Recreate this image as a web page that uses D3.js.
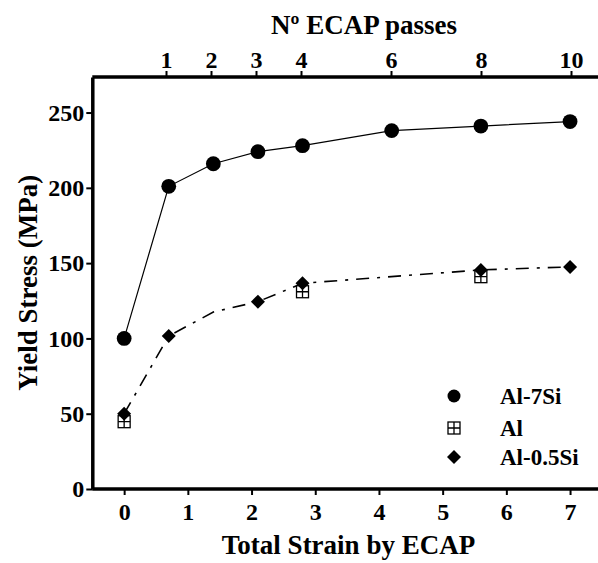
<!DOCTYPE html>
<html>
<head>
<meta charset="utf-8">
<script src="https://cdn.jsdelivr.net/npm/d3@7"></script>
<style>
  body { margin: 0; background: #fff; }
  text { font-family: "Liberation Serif", "Times New Roman", serif; font-weight: bold; fill: #000; }
</style>
</head>
<body>
<div id="chart"></div>
<script>
// strain after each ECAP pass (0, 1, 2, 3, 4, 6, 8, 10 passes)
const strain = [0, 0.7, 1.4, 2.1, 2.8, 4.2, 5.6, 7.0];
const al7si = [100, 201, 216, 224, 228, 238, 241, 244];

const alStrain = [0, 2.8, 5.6];
const al = [44.7, 131, 141];

const al05siStrain = [0, 0.7, 2.1, 2.8, 5.6, 7.0];
const al05si = [50, 101.6, 124.4, 136.6, 145.5, 147.5];

// dash-dot trend line drawn through the Al / Al-0.5Si data
const trendStrain = [0, 0.7, 1.4, 2.1, 2.8, 5.6, 7.0];
const trend = [50, 101.6, 117.5, 124.4, 136.6, 145.5, 147.5];

const strainTicks = [0, 1, 2, 3, 4, 5, 6, 7];
const passTicks = [1, 2, 3, 4, 6, 8, 10];
const stressTicks = [0, 50, 100, 150, 200, 250];

const legendItems = ["Al-7Si", "Al", "Al-0.5Si"];

const width = 598, height = 563;
const svg = d3.select("#chart").append("svg")
  .attr("width", width)
  .attr("height", height);

const x = d3.scaleLinear().domain([-0.5, 7.5]).range([92.3, 601.9]);
const y = d3.scaleLinear().domain([0, 273.6]).range([489, 77]);
const xTop = d3.scaleLinear().domain([0, 10]).range([121, 571]);

const tickFont = "24px";
const titleFont = "27px";

// axes
const gLeft = svg.append("g")
  .attr("transform", `translate(${x(-0.5)},0)`)
  .call(d3.axisLeft(y).tickValues(stressTicks).tickSize(6).tickSizeOuter(0).tickPadding(1));

const gBottom = svg.append("g")
  .attr("transform", `translate(0,${y(0)})`)
  .call(d3.axisBottom(x).tickValues(strainTicks).tickSize(6).tickSizeOuter(0).tickPadding(8));
gBottom.select(".domain").attr("d", `M${x(-0.5)},0H${width + 10}`);

const gTop = svg.append("g")
  .attr("transform", `translate(0,${y(273.6)})`)
  .call(d3.axisTop(xTop).tickValues(passTicks).tickSize(6).tickSizeOuter(0).tickPadding(3));
gTop.select(".domain").attr("d", `M${x(-0.5)},0H${width + 10}`);

[gLeft, gBottom, gTop].forEach(g => {
  g.select(".domain").attr("stroke", "#000").attr("stroke-width", 3.5);
  g.selectAll(".tick line").attr("stroke", "#000").attr("stroke-width", 2);
  g.selectAll(".tick text")
    .style("font-family", '"Liberation Serif", "Times New Roman", serif')
    .style("font-weight", "bold")
    .style("font-size", tickFont)
    .attr("fill", "#000");
});
gLeft.selectAll(".tick text").attr("dx", "-1");

// axis titles
svg.append("text")
  .attr("x", 348.5)
  .attr("y", 554)
  .attr("text-anchor", "middle")
  .style("font-size", titleFont)
  .text("Total Strain by ECAP");

svg.append("text")
  .attr("x", 364)
  .attr("y", 34)
  .attr("text-anchor", "middle")
  .style("font-size", titleFont)
  .text("Nº ECAP passes");

svg.append("text")
  .attr("transform", `translate(37,${y(137)}) rotate(-90)`)
  .attr("text-anchor", "middle")
  .style("font-size", titleFont)
  .text("Yield Stress (MPa)");

// lines
const line = d3.line().x(d => x(d[0])).y(d => y(d[1]));

svg.append("path")
  .datum(d3.zip(strain, al7si))
  .attr("d", line)
  .attr("fill", "none")
  .attr("stroke", "#000")
  .attr("stroke-width", 1.2);

svg.append("path")
  .datum(d3.zip(trendStrain, trend))
  .attr("d", line)
  .attr("fill", "none")
  .attr("stroke", "#000")
  .attr("stroke-width", 1.6)
  .attr("stroke-dasharray", "13,8,3,8");

// markers
function drawSquare(g, cx, cy, s) {
  g.append("rect")
    .attr("x", cx - s / 2).attr("y", cy - s / 2)
    .attr("width", s).attr("height", s)
    .attr("fill", "#fff").attr("stroke", "#000").attr("stroke-width", 1.3);
  g.append("path")
    .attr("d", `M${cx},${cy - s / 2}V${cy + s / 2}M${cx - s / 2},${cy}H${cx + s / 2}`)
    .attr("stroke", "#000").attr("stroke-width", 1.3);
}

function diamondPath(cx, cy, r) {
  return `M${cx},${cy - r}L${cx + r},${cy}L${cx},${cy + r}L${cx - r},${cy}Z`;
}

svg.selectAll(".dot")
  .data(d3.zip(strain, al7si))
  .join("circle")
  .attr("class", "dot")
  .attr("cx", d => x(d[0]))
  .attr("cy", d => y(d[1]))
  .attr("r", 7.4)
  .attr("fill", "#000");

const sq = svg.append("g");
d3.zip(alStrain, al).forEach(d => drawSquare(sq, x(d[0]), y(d[1]), 12));

svg.selectAll(".dia")
  .data(d3.zip(al05siStrain, al05si))
  .join("path")
  .attr("class", "dia")
  .attr("d", d => diamondPath(x(d[0]), y(d[1]), 7))
  .attr("fill", "#000");

// legend
const lg = svg.append("g");
const legY = [396, 428, 457];
lg.append("circle").attr("cx", 454).attr("cy", legY[0]).attr("r", 6.5).attr("fill", "#000");
drawSquare(lg, 454, legY[1], 12);
lg.append("path").attr("d", diamondPath(454, legY[2], 7)).attr("fill", "#000");
lg.selectAll("text")
  .data(legendItems)
  .join("text")
  .attr("x", 500)
  .attr("y", (d, i) => legY[i] + 8)
  .style("font-size", "23px")
  .text(d => d);
</script>
</body>
</html>
